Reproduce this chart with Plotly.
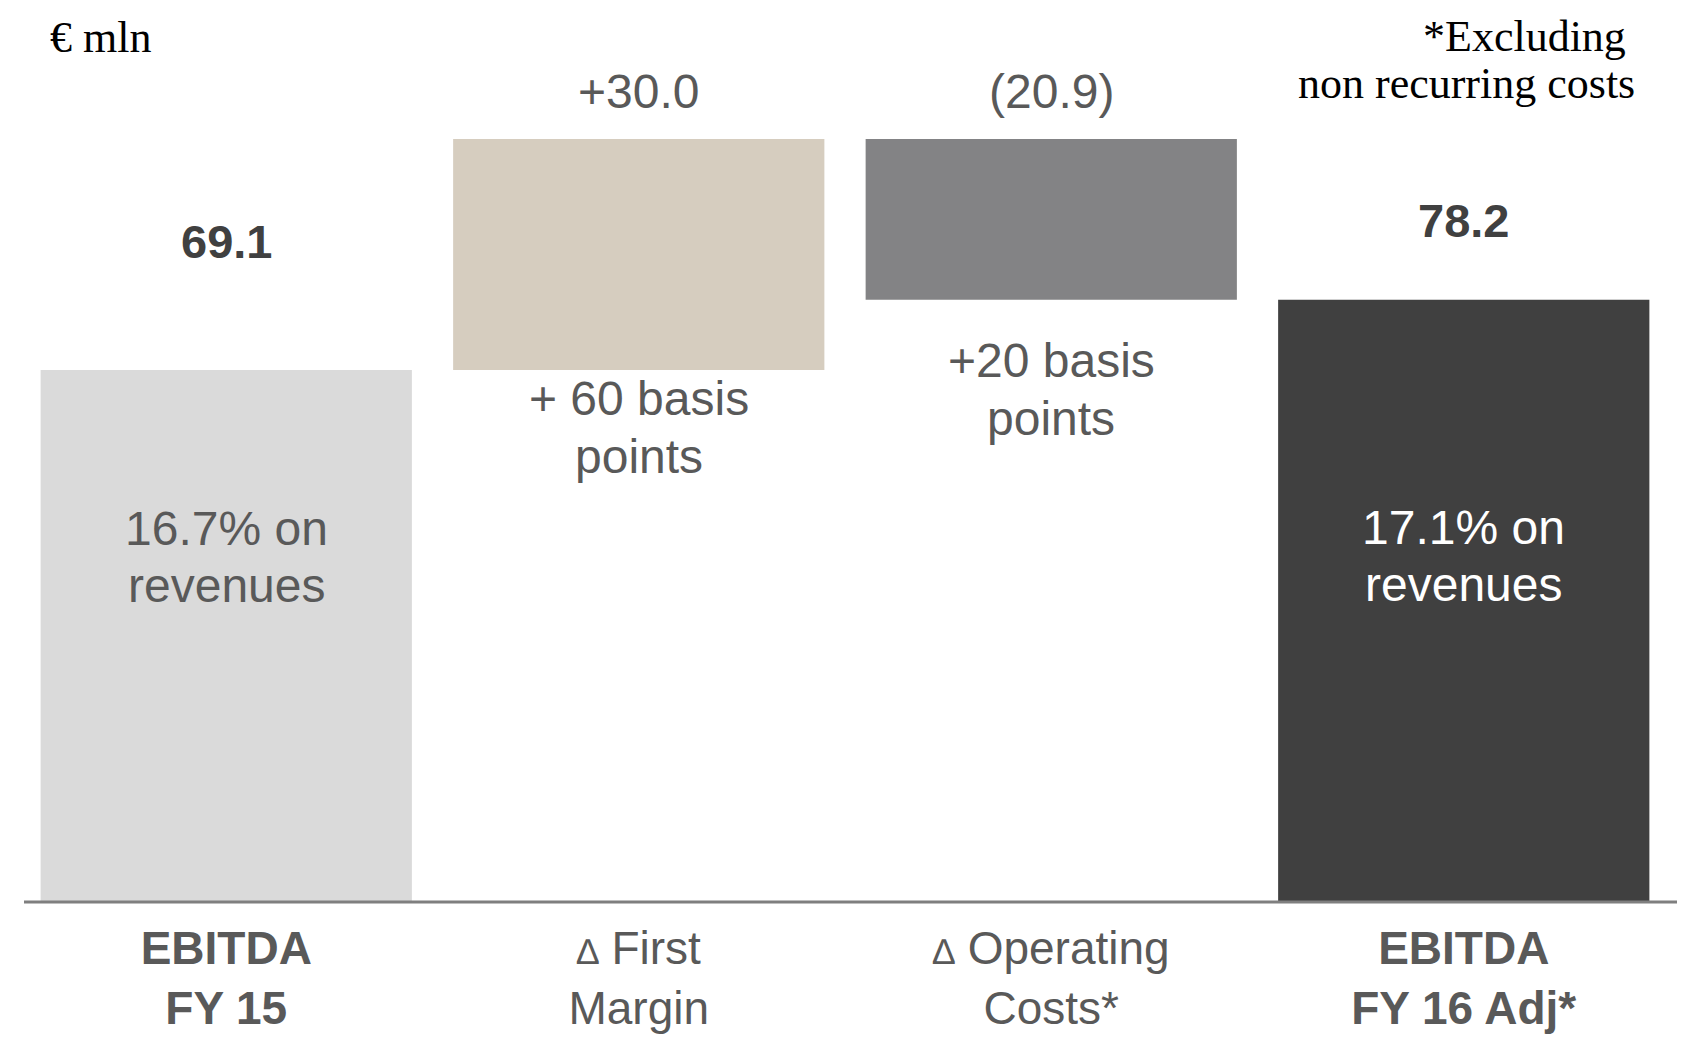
import plotly.graph_objects as go

# ---- data ----
cat_line1 = ["EBITDA", "∆", "∆", "EBITDA"]
cat_first = ["", "First", "Operating", ""]
cat_line2 = ["FY 15", "Margin", "Costs*", "FY 16 Adj*"]
bold_cats = [True, False, False, True]
values = [69.1, 30.0, -20.9, 78.2]          # start, delta, delta, end (€ mln)
measures = ["absolute", "relative", "relative", "total"]
value_labels = ["69.1", "+30.0", "(20.9)", "78.2"]
note_line1 = ["16.7% on", "+ 60 basis", "+20 basis", "17.1% on"]
note_line2 = ["revenues", "points", "points", "revenues"]
bar_colors = ["#DADADA", "#D6CDBF", "#838385", "#404040"]

OFF = 8  # page body margin
W, H = 1685 - OFF, 1037 - OFF
ML, MR, MT, MB = 12, 15, 0, 135
PH = H - MT - MB
PW = W - ML - MR

def py(p):
    """page pixel y (from top) -> paper y"""
    return (H - MB - (p - OFF)) / PH

def pxx(p):
    return (p - OFF - ML) / PW

# waterfall geometry from values
bases, heights = [], []
running = 0.0
for v, m in zip(values, measures):
    if m == "absolute":
        bases.append(0.0); heights.append(v); running = v
    elif m == "relative":
        new = running + v
        bases.append(min(running, new)); heights.append(abs(v)); running = new
    else:
        bases.append(0.0); heights.append(v)

ticktext = []
for a, f, b, bold in zip(cat_line1, cat_first, cat_line2, bold_cats):
    if bold:
        ticktext.append(f"<b>{a}<br>{b}</b>")
    else:
        ticktext.append(f"<span style='font-size:36px'>{a}</span> {f}<br>{b}")

fig = go.Figure()
fig.add_trace(go.Bar(
    x=list(range(4)), y=heights, base=bases,
    marker=dict(color=bar_colors, line=dict(width=0)),
    hoverinfo="skip", showlegend=False,
))

grey = "#595959"
serif = dict(family="Liberation Serif", size=44, color="#000000")
ann = []
ann.append(dict(text="€ mln", x=pxx(48), y=py(38), xref="paper", yref="paper",
                xanchor="left", yanchor="middle", showarrow=False, font=serif))
ann.append(dict(text="*Excluding", x=pxx(1628), y=py(36), xref="paper", yref="paper",
                xanchor="right", yanchor="middle", showarrow=False, font=serif))
ann.append(dict(text="non recurring costs", x=pxx(1637), y=py(83), xref="paper", yref="paper",
                xanchor="right", yanchor="middle", showarrow=False, font=serif))
# value labels
val_pos = [(241, True), (92, False), (92, False), (220, True)]
for i, (yp, b) in enumerate(val_pos):
    ann.append(dict(text=f"<b>{value_labels[i]}</b>" if b else value_labels[i],
                    x=i, y=py(yp), xref="x", yref="paper", xanchor="center", yanchor="middle",
                    showarrow=False,
                    font=dict(family="Liberation Sans", size=47 if b else 48,
                              color="#404040" if b else grey)))
# notes (two lines each)
note_pos = [(528, 585), (398, 456), (361, 419), (527, 584)]
note_colors = [grey, grey, grey, "#FFFFFF"]
for i, (y1, y2) in enumerate(note_pos):
    for txt, yp in ((note_line1[i], y1), (note_line2[i], y2)):
        ann.append(dict(text=txt, x=i, y=py(yp), xref="x", yref="paper",
                        xanchor="center", yanchor="middle", showarrow=False,
                        font=dict(family="Liberation Sans", size=48, color=note_colors[i])))

fig.update_layout(
    width=W, height=H,
    margin=dict(l=ML, r=MR, t=MT, b=MB),
    paper_bgcolor="white", plot_bgcolor="white",
    bargap=0.1,
    annotations=ann,
    shapes=[dict(type="line", xref="paper", yref="paper", x0=pxx(24), x1=pxx(1685),
                 y0=0, y1=0, line=dict(color="#7F7F7F", width=3))],
    xaxis=dict(tickmode="array", tickvals=list(range(4)), ticktext=ticktext,
               range=[-0.5, 3.5], showgrid=False, zeroline=False, showline=False,
               ticks="", ticklabelstandoff=15,
               tickfont=dict(family="Liberation Sans", size=46, color=grey)),
    yaxis=dict(range=[0, 116.1], visible=False, showgrid=False, zeroline=False),
)

fig.write_html("out.html", config={"displayModeBar": False})
